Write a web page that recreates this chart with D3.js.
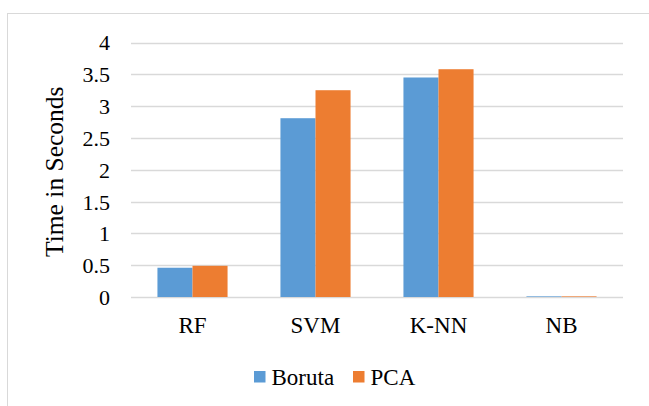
<!DOCTYPE html>
<html>
<head>
<meta charset="utf-8">
<script src="https://cdn.jsdelivr.net/npm/d3@7"></script>
<style>
  html, body { margin: 0; padding: 0; background: #fff; }
  svg { display: block; }
  svg text { font-family: 'Liberation Serif', 'Times New Roman', serif; fill: #000; }
</style>
</head>
<body>
<script>
// Training time per classifier, for each feature-selection method
const categories = ["RF", "SVM", "K-NN", "NB"];
const seriesNames = ["Boruta", "PCA"];
const borutaTimes = [0.46, 2.81, 3.45, 0.01];
const pcaTimes = [0.49, 3.25, 3.58, 0.01];
const yTicks = [0, 0.5, 1, 1.5, 2, 2.5, 3, 3.5, 4];
const colors = ["#5B9BD5", "#ED7D31"];

const W = 649, H = 406;
const svg = d3.select("body").append("svg").attr("width", W).attr("height", H);
const font = "'Liberation Serif', 'Times New Roman', serif";

// chart-area frame
svg.append("rect")
  .attr("x", 7.5).attr("y", 13.5).attr("width", 700).attr("height", 500)
  .attr("fill", "none").attr("stroke", "#d9d9d9").attr("stroke-width", 1);

const plot = { left: 131, right: 623, top: 42.5, bottom: 297 };

const x = d3.scaleBand().domain(categories)
  .range([plot.left, plot.right]).paddingInner(0.43).paddingOuter(0.215);
const xs = d3.scaleBand().domain(seriesNames).range([0, x.bandwidth()]);
const y = d3.scaleLinear().domain([0, 4]).range([plot.bottom, plot.top]);

// gridlines
svg.append("g").selectAll("line").data(yTicks).join("line")
  .attr("x1", plot.left).attr("x2", plot.right)
  .attr("y1", d => Math.round(y(d)) + 0.5).attr("y2", d => Math.round(y(d)) + 0.5)
  .attr("stroke", "#d9d9d9").attr("stroke-width", 1.3);

// y axis labels
const yAxis = d3.axisLeft(y).tickValues(yTicks).tickSize(0).tickPadding(0)
  .tickFormat(d => String(d));
const gy = svg.append("g").attr("transform", `translate(${plot.left - 21},0)`).call(yAxis)
  .attr("font-family", font).attr("font-size", 22);
gy.select(".domain").remove();
gy.selectAll("text").attr("dy", "0.34em");

// bars
const rows = categories.map((c, i) => ({ cat: c, vals: [borutaTimes[i], pcaTimes[i]] }));
const groups = svg.append("g").selectAll("g").data(rows).join("g")
  .attr("transform", d => `translate(${x(d.cat)},0)`);
groups.selectAll("rect").data(d => d.vals.map((v, j) => ({ name: seriesNames[j], v, j })))
  .join("rect")
  .attr("x", d => xs(d.name))
  .attr("width", xs.bandwidth())
  .attr("y", d => y(d.v))
  .attr("height", d => y(0) - y(d.v))
  .attr("fill", d => colors[d.j]);

// x axis labels
const xAxis = d3.axisBottom(x).tickSize(0).tickPadding(0);
const gx = svg.append("g").attr("transform", `translate(0,${plot.bottom})`).call(xAxis)
  .attr("font-family", font).attr("font-size", 23);
gx.select(".domain").remove();
gx.selectAll("text").attr("dy", null).attr("y", 36);

// y axis title
svg.append("text")
  .attr("transform", `translate(63,${(plot.top + plot.bottom) / 2 + 2}) rotate(-90)`)
  .attr("text-anchor", "middle")
  .attr("font-size", 25.5)
  .text("Time in Seconds");

// legend
const legendX = [254, 353];
const legend = svg.append("g").selectAll("g").data(seriesNames).join("g")
  .attr("transform", (d, i) => `translate(${legendX[i]},371)`);
legend.append("rect").attr("width", 11.5).attr("height", 11.5).attr("fill", (d, i) => colors[i]);
legend.append("text").attr("x", 17.5).attr("y", 14)
  .attr("font-size", 23)
  .text(d => d);
</script>
</body>
</html>
